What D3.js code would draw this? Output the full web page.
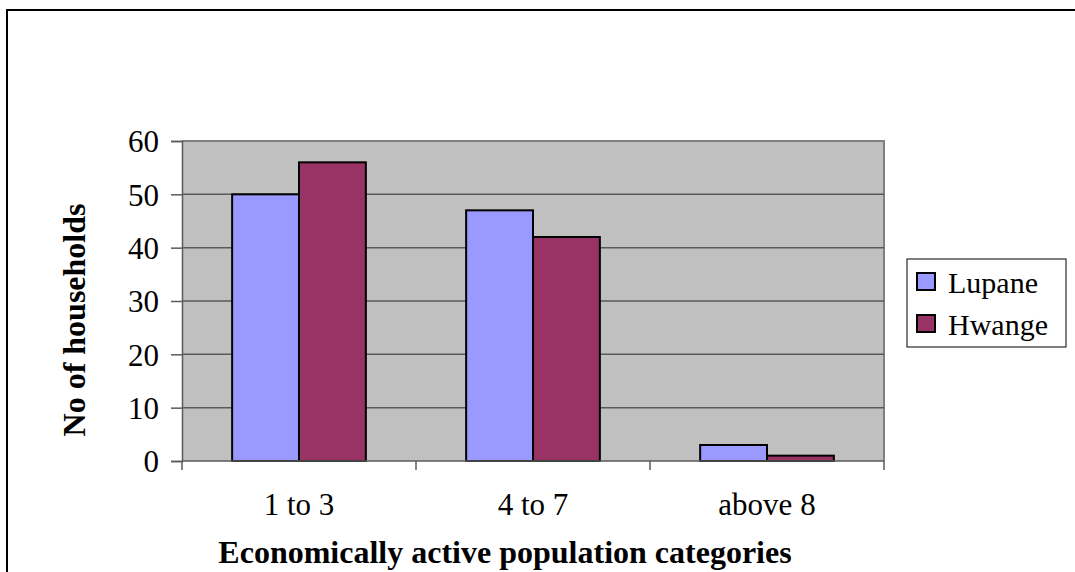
<!DOCTYPE html>
<html>
<head>
<meta charset="utf-8">
<script src="https://cdn.jsdelivr.net/npm/d3@7"></script>
<style>
  html, body { margin: 0; padding: 0; background: #fff; }
  svg { display: block; }
  text { font-family: "Liberation Serif", "Times New Roman", serif; fill: #000; }
</style>
</head>
<body>
<svg id="chart" width="1075" height="572"></svg>
<script>
// Households by number of economically active members, per district
const categories = ["1 to 3", "4 to 7", "above 8"];
const seriesNames = ["Lupane", "Hwange"];
const lupane = [50, 47, 3];
const hwange = [56, 42, 1];
const yTicks = [0, 10, 20, 30, 40, 50, 60];
const colors = ["#9999FF", "#993366"];

const values = [lupane, hwange];
const svg = d3.select("#chart");

// outer frame (top and left edges)
svg.append("path")
  .attr("d", "M7,572 V10 H1075")
  .attr("fill", "none").attr("stroke", "#000").attr("stroke-width", 2);

const plot = { left: 182, right: 884, top: 141, bottom: 461 };

const x = d3.scaleBand().domain(categories).range([plot.left, plot.right]);
const y = d3.scaleLinear().domain([0, 60]).range([plot.bottom, plot.top]);
const inner = d3.scaleBand().domain(seriesNames)
  .range([0, x.bandwidth()]).paddingOuter(0.75);

// plot background
svg.append("rect")
  .attr("x", plot.left).attr("y", plot.top)
  .attr("width", plot.right - plot.left).attr("height", plot.bottom - plot.top)
  .attr("fill", "#C0C0C0");

// plot border top and right
svg.append("path")
  .attr("d", `M${plot.left},${plot.top} H${plot.right} V${plot.bottom}`)
  .attr("fill", "none").attr("stroke", "#808080").attr("stroke-width", 2);

// horizontal gridlines
svg.append("g").selectAll("line")
  .data(yTicks.filter(d => d > 0 && d < 60))
  .join("line")
  .attr("x1", plot.left).attr("x2", plot.right)
  .attr("y1", d => y(d)).attr("y2", d => y(d))
  .attr("stroke", "#5a5a5a").attr("stroke-width", 1.5);

// bars
const groups = svg.append("g").selectAll("g")
  .data(seriesNames)
  .join("g")
  .attr("fill", (d, i) => colors[i]);

groups.selectAll("rect")
  .data((s, i) => categories.map((c, j) => ({ c, s, v: values[i][j] })))
  .join("rect")
  .attr("x", d => x(d.c) + inner(d.s))
  .attr("width", inner.bandwidth())
  .attr("y", d => y(d.v))
  .attr("height", d => y(0) - y(d.v))
  .attr("stroke", "#000").attr("stroke-width", 2);

// y axis
const yAxis = svg.append("g")
  .attr("transform", `translate(${plot.left},0)`)
  .call(d3.axisLeft(y).tickValues(yTicks).tickSize(11).tickPadding(12));
yAxis.attr("font-family", null);
yAxis.select(".domain").attr("stroke", "#5a5a5a").attr("stroke-width", 1.5);
yAxis.selectAll(".tick line").attr("stroke", "#5a5a5a").attr("stroke-width", 1.5);
yAxis.selectAll(".tick text")
  .attr("font-size", 31).attr("dy", "0.35em");

// x axis: ticks at category boundaries
const xAxis = svg.append("g")
  .attr("transform", `translate(0,${plot.bottom})`);
xAxis.append("line")
  .attr("x1", plot.left).attr("x2", plot.right)
  .attr("stroke", "#5a5a5a").attr("stroke-width", 1.5);
const bounds = categories.map(c => x(c)).concat([plot.right]);
xAxis.selectAll("line.tk")
  .data(bounds)
  .join("line").attr("class", "tk")
  .attr("x1", d => d).attr("x2", d => d)
  .attr("y1", 0).attr("y2", 9)
  .attr("stroke", "#5a5a5a").attr("stroke-width", 1.5);
xAxis.selectAll("text")
  .data(categories)
  .join("text")
  .attr("x", d => x(d) + x.bandwidth() / 2)
  .attr("y", 54)
  .attr("text-anchor", "middle")
  .attr("font-size", 31)
  .text(d => d);

// axis titles
svg.append("text")
  .attr("x", 505)
  .attr("y", 563)
  .attr("text-anchor", "middle")
  .attr("font-size", 32).attr("font-weight", "bold")
  .text("Economically active population categories");

svg.append("text")
  .attr("transform", "translate(85,320) rotate(-90)")
  .attr("text-anchor", "middle")
  .attr("font-size", 32).attr("font-weight", "bold")
  .text("No of households");

// legend
const legend = svg.append("g");
legend.append("rect")
  .attr("x", 907).attr("y", 259).attr("width", 159).attr("height", 88)
  .attr("fill", "#fff").attr("stroke", "#000").attr("stroke-width", 1);
const items = legend.selectAll("g.item")
  .data(seriesNames)
  .join("g").attr("class", "item")
  .attr("transform", (d, i) => `translate(917,${273 + i * 42})`);
items.append("rect")
  .attr("width", 18).attr("height", 17)
  .attr("fill", (d, i) => colors[i])
  .attr("stroke", "#000").attr("stroke-width", 2);
items.append("text")
  .attr("x", 31).attr("y", 20)
  .attr("font-size", 30)
  .text(d => d);
</script>
</body>
</html>
